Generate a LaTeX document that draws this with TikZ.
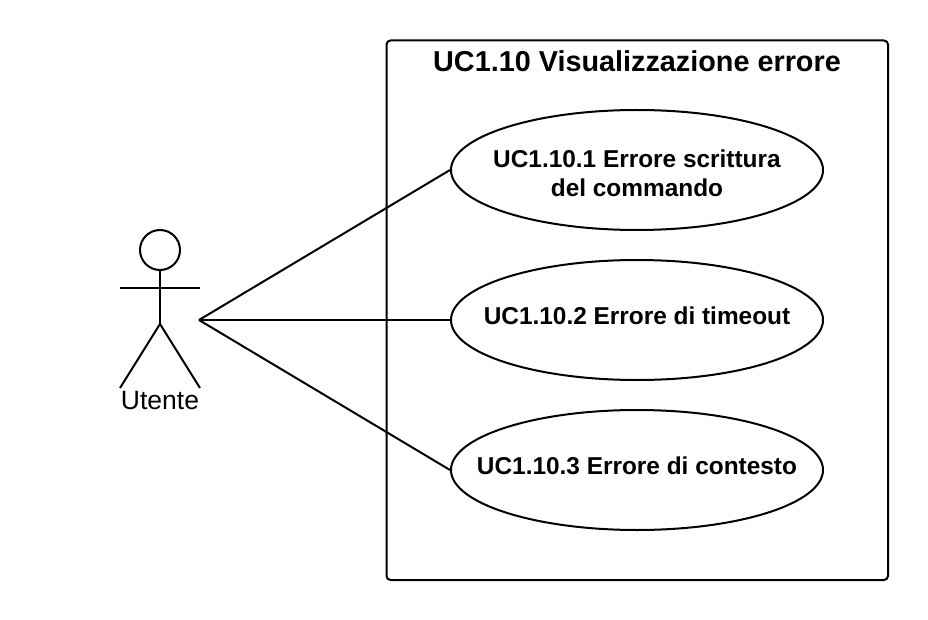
\documentclass[tikz,border=0pt]{standalone}
\usepackage{fontspec}
\setmainfont{Liberation Sans}
\usetikzlibrary{shapes.geometric}
\tikzset{
  ucase/.style={draw=black,line width=2bp,ellipse,minimum width=372bp,minimum height=120bp,inner sep=0pt,fill=none},
  uctext/.style={font=\fontsize{24.4bp}{29bp}\selectfont\bfseries,align=center,inner sep=0pt},
  lnk/.style={line width=2bp,draw=black},
  stick/.style={line width=2bp,draw=black}
}
\begin{document}
\begin{tikzpicture}[x=1bp,y=-1bp]
\useasboundingbox (0,0) rectangle (928,620);
\draw[line width=2bp,rounded corners=4bp] (386.5,40.5) rectangle (888,580);
\node[font=\fontsize{28.8bp}{34bp}\selectfont\bfseries] (title) at (637,61) {UC1.10 Visualizzazione errore};
\node[ucase] (a) at (637,170) {};
\node[uctext] (atext) at (637,173.5) {UC1.10.1 Errore scrittura\\del commando};
\node[ucase] (b) at (637,320) {};
\node[uctext] (btext) at (637,316) {UC1.10.2 Errore di timeout};
\node[ucase] (c) at (637,470) {};
\node[uctext] (ctext) at (637,466) {UC1.10.3 Errore di contesto};
\node[draw,circle,line width=2bp,minimum size=40bp,inner sep=0pt] (head) at (160,250) {};
\coordinate (hip) at (160,324);
\coordinate (armL) at (120,288);
\coordinate (armR) at (200,288);
\coordinate (footL) at (120,388);
\coordinate (footR) at (200,388);
\coordinate (actor) at (199,320);
\draw[stick] (head.south) -- (hip);
\draw[stick] (armL) -- (armR);
\draw[stick] (footL) -- (hip) -- (footR);
\node[font=\fontsize{26.5bp}{30bp}\selectfont] (lab) at (160,401) {Utente};
\draw[lnk] (actor) -- (a.west);
\draw[lnk] (actor) -- (b.west);
\draw[lnk] (actor) -- (c.west);
\end{tikzpicture}
\end{document}
